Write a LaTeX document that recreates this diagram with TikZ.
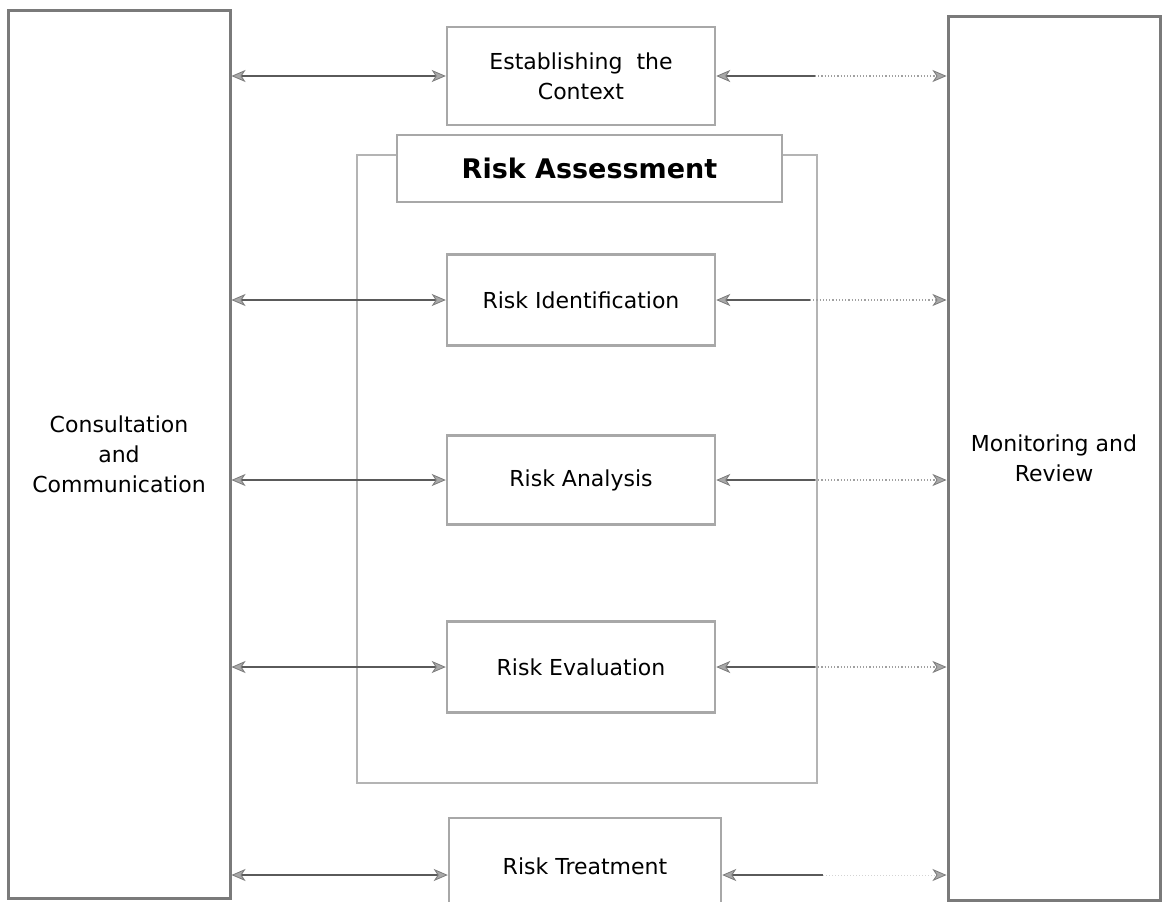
\documentclass[tikz,border=0pt]{standalone}
\usepackage{fontspec}
\setmainfont{DejaVu Sans}
\usetikzlibrary{arrows.meta,calc}
\definecolor{bigline}{HTML}{7A7A7A}
\definecolor{boxline}{HTML}{A8A8A8}
\definecolor{contline}{HTML}{B4B4B4}
\definecolor{arrline}{HTML}{5A5A5A}
\definecolor{dotline}{HTML}{A0A0A0}
\definecolor{tipfill}{HTML}{A8A8A8}
\tikzset{
  bigbox/.style={draw=bigline, line width=3pt, align=center, font=\fontsize{22}{30}\selectfont, inner sep=0pt},
  stagebox/.style={draw=boxline, line width=2.5pt, align=center, font=\fontsize{22}{30}\selectfont, minimum width=268pt, inner sep=0pt},
  headbox/.style={draw=boxline, line width=2.5pt, align=center, font=\fontsize{27}{32}\selectfont\bfseries, inner sep=0pt},
  contpath/.style={draw=contline, line width=2.5pt},
  tipA/.tip={Stealth[length=14pt,width=12pt,inset=4pt,fill=tipfill,color=arrline!80,line width=0.8pt]},
  twoway/.style={draw=arrline, line width=1.2pt, tipA-tipA},
  backarrow/.style={draw=arrline, line width=1.2pt, tipA-},
  dotarrow/.style={draw=dotline, line width=1.2pt, dotted, -tipA},
  fadearrow/.style={draw=dotline!45, line width=1pt, dotted, -tipA}
}
\begin{document}
\begin{tikzpicture}[x=1pt,y=-1pt]
\useasboundingbox (0,0) rectangle (1162,902);
\clip (0,0) rectangle (1162,902);
\fill[white] (0,0) rectangle (1162,902);

% big side boxes
\node[bigbox, minimum width=222pt, minimum height=888pt] (cc) at (119,454) {Consultation\\and\\Communication};
\node[bigbox, minimum width=212pt, minimum height=884pt] (mr) at (1054,458) {Monitoring and\\Review};

% stage boxes
\node[stagebox, minimum height=98pt] (ctx) at (581,76) {Establishing~ the\\Context};
\node[headbox, minimum width=385pt, minimum height=67pt] (ra) at (589.5,168.5) {Risk Assessment};
\node[stagebox, minimum height=91pt] (ri) at (581,300) {Risk Identification};
\node[stagebox, minimum height=89pt] (ran) at (581,480) {Risk Analysis};
\node[stagebox, minimum height=91pt] (rev) at (581,667) {Risk Evaluation};
\node[stagebox, minimum width=272pt, minimum height=96pt] (rt) at (585,866) {Risk Treatment};

% risk assessment container
\coordinate (c1) at (357,155);
\coordinate (c2) at (357,783);
\coordinate (c3) at (817,783);
\coordinate (c4) at (817,155);
\draw[contpath] (ra.west |- c1) -- (c1) -- (c2) -- (c3) -- (c4) -- (ra.east |- c4);

% left two-way arrows
\draw[twoway] (cc.east |- ctx.west) -- (ctx.west);
\draw[twoway] (cc.east |- ri.west) -- (ri.west);
\draw[twoway] (cc.east |- ran.west) -- (ran.west);
\draw[twoway] (cc.east |- rev.west) -- (rev.west);
\coordinate (rtw) at ([yshift=-9pt]rt.west);
\draw[twoway] (cc.east |- rtw) -- (rtw);

% right arrows: solid part then dotted part
\coordinate (b1) at (815,76);
\draw[backarrow] (ctx.east) -- (b1);
\draw[dotarrow] (b1) -- (mr.west |- b1);

\coordinate (b2) at (810,300);
\draw[backarrow] (ri.east) -- (b2);
\draw[dotarrow] (b2) -- (mr.west |- b2);

\coordinate (b3) at (815,480);
\draw[backarrow] (ran.east) -- (b3);
\draw[dotarrow] (b3) -- (mr.west |- b3);

\coordinate (b4) at (815,667);
\draw[backarrow] (rev.east) -- (b4);
\draw[dotarrow] (b4) -- (mr.west |- b4);

\coordinate (rte) at ([yshift=-9pt]rt.east);
\coordinate (b5) at (823,875);
\draw[backarrow] (rte) -- (b5);
\draw[fadearrow] (b5) -- (mr.west |- b5);
\end{tikzpicture}
\end{document}
